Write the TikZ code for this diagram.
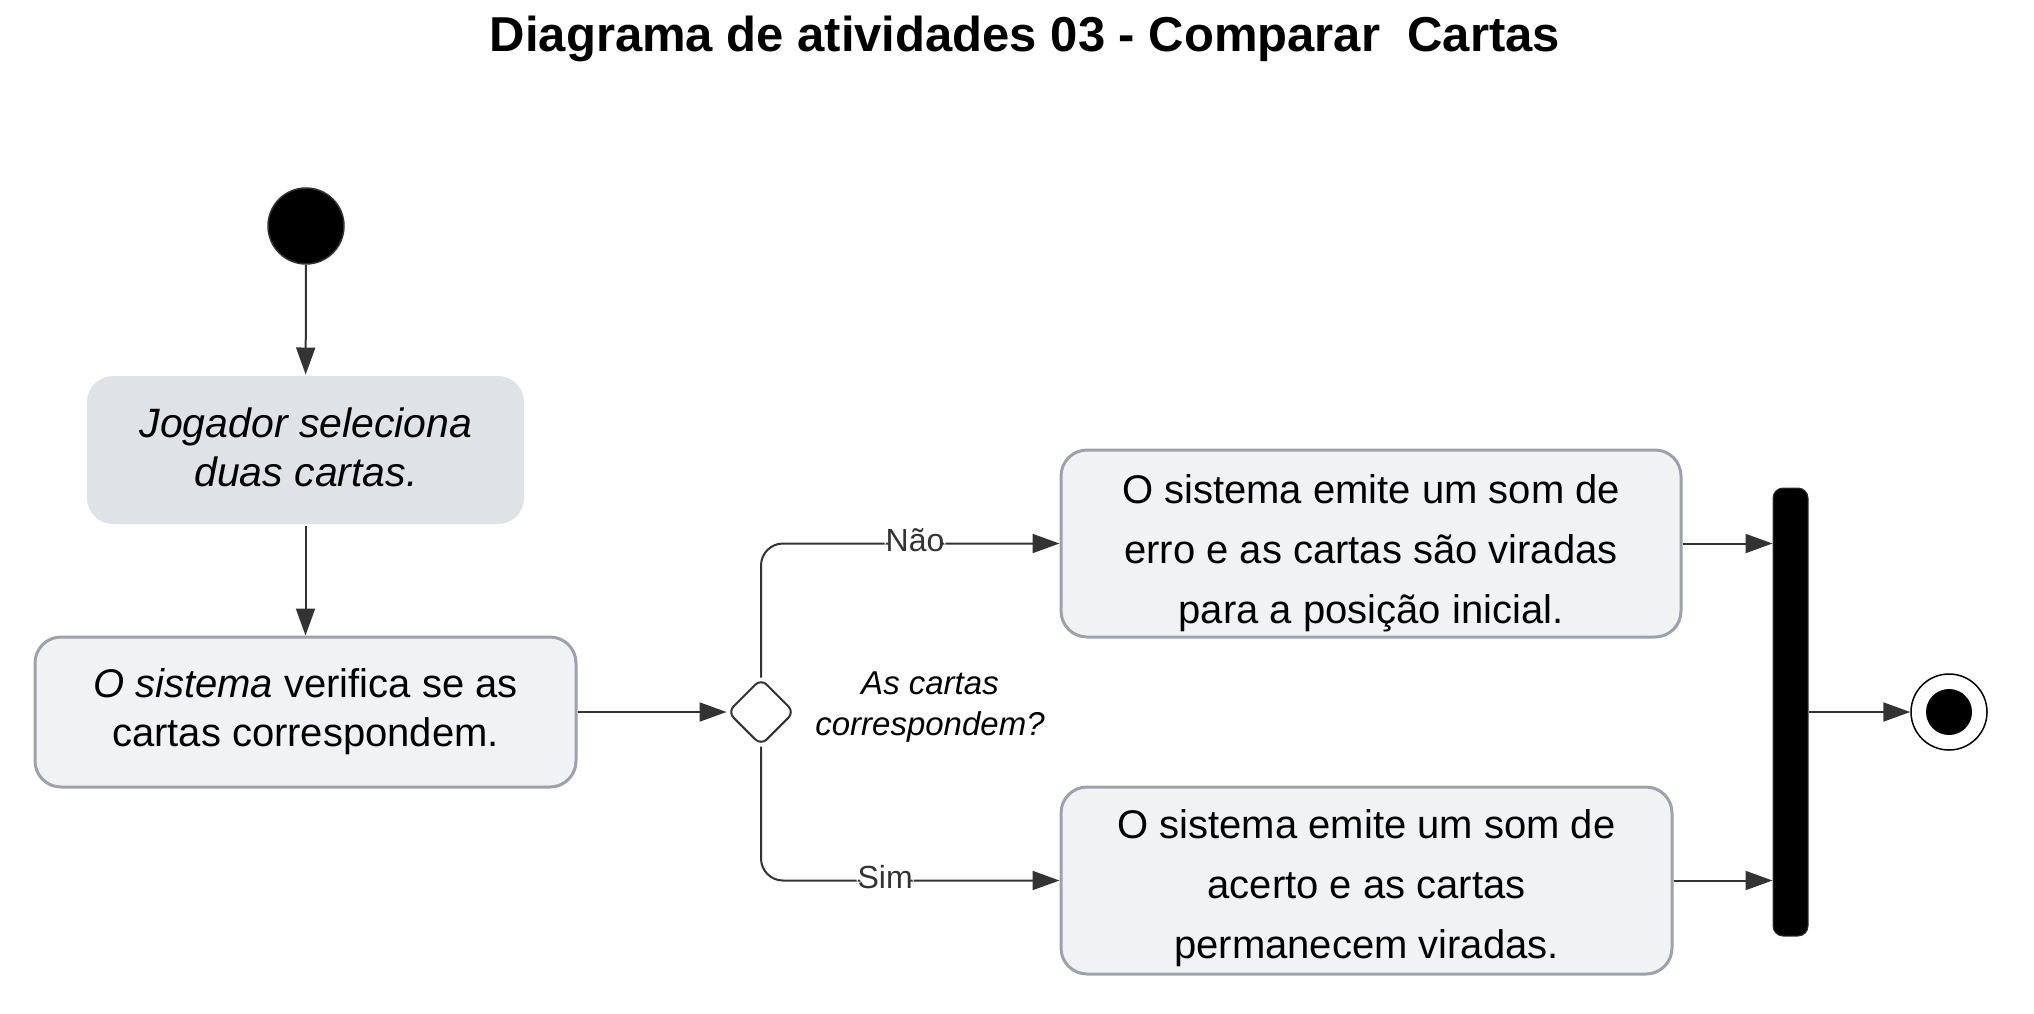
\documentclass[tikz,border=0pt]{standalone}
\usepackage{fontspec}
\setmainfont{Liberation Sans}
\usetikzlibrary{arrows.meta,shapes.geometric}
\definecolor{edge}{HTML}{333333}
\definecolor{boxfill}{HTML}{F1F2F4}
\definecolor{boxline}{HTML}{9CA1AB}
\definecolor{grayfill}{HTML}{DFE2E7}
\begin{document}
\begin{tikzpicture}[x=1pt,y=-1pt,
  flow/.style={draw=edge,line width=2pt,-{Triangle[length=27pt,width=19pt]}},
  act/.style={rectangle,rounded corners=26pt,align=center,inner sep=0pt,fill=boxfill,draw=boxline,line width=3pt},
  txt/.style={align=center,inner sep=0pt,font=\fontsize{40}{60}\selectfont},
  lbl/.style={fill=white,inner sep=1pt,text=edge,font=\fontsize{32}{38}\selectfont,yshift=3pt}]
\useasboundingbox (0,0) rectangle (2034,1013);
\node[font=\fontsize{49}{58}\selectfont\bfseries] (title) at (1025,39) {Diagrama de atividades 03 - Comparar \ Cartas};
\node[circle,fill=black,draw=edge,line width=1.5pt,minimum size=76pt,inner sep=0pt] (start) at (306,226) {};
\node[act,draw=none,fill=grayfill,minimum width=437pt,minimum height=148pt] (b1) at (305.5,450) {};
\node[txt,font=\fontsize{41}{49}\selectfont\itshape] (b1t) at (306,447) {Jogador seleciona\\duas cartas.};
\node[act,minimum width=541pt,minimum height=150pt,font=\fontsize{40}{49}\selectfont] (b2) at (305.5,712) {\textit{O sistema} verifica se as\\cartas correspondem.};
\node[diamond,draw=edge,line width=2pt,fill=white,minimum size=67pt,inner sep=0pt,rounded corners=8pt] (dec) at (761,712) {};
\node[font=\fontsize{33}{41}\selectfont\itshape,align=center] (q) at (930,707) {As cartas\\correspondem?};
\node[act,minimum width=620pt,minimum height=187pt] (b3) at (1371,543.5) {};
\node[txt] (b3t) at (1371,553) {O sistema emite um som de\\erro e as cartas são viradas\\para a posição inicial.};
\node[act,minimum width=611pt,minimum height=187pt] (b4) at (1366.5,880.5) {};
\node[txt] (b4t) at (1366.5,888) {O sistema emite um som de\\acerto e as cartas\\permanecem viradas.};
\node[rectangle,fill=black,draw=edge,line width=1pt,rounded corners=10pt,minimum width=35pt,minimum height=448pt,inner sep=0pt] (bar) at (1790.5,712) {};
\node[circle,draw=black,line width=1.5pt,fill=white,minimum size=76pt,inner sep=0pt] (fin) at (1949,712) {};
\node[circle,fill=black,minimum size=46pt,inner sep=0pt] (finin) at (fin) {};
\draw[flow] (start) -- (b1);
\draw[flow] (b1) -- (b2);
\draw[flow] (b2.east) -- (dec.west);
\draw[flow,rounded corners=22pt] (dec.north) |- node[lbl,pos=0.758] (nao) {Não} (b3.west);
\draw[flow,rounded corners=22pt] (dec.south) |- node[lbl,pos=0.708] (sim) {Sim} (b4.west);
\draw[flow] (b3.east) -- (b3.east -| bar.west);
\draw[flow] (b4.east) -- (b4.east -| bar.west);
\draw[flow] (bar.east |- fin) -- (fin.west);
\end{tikzpicture}
\end{document}
